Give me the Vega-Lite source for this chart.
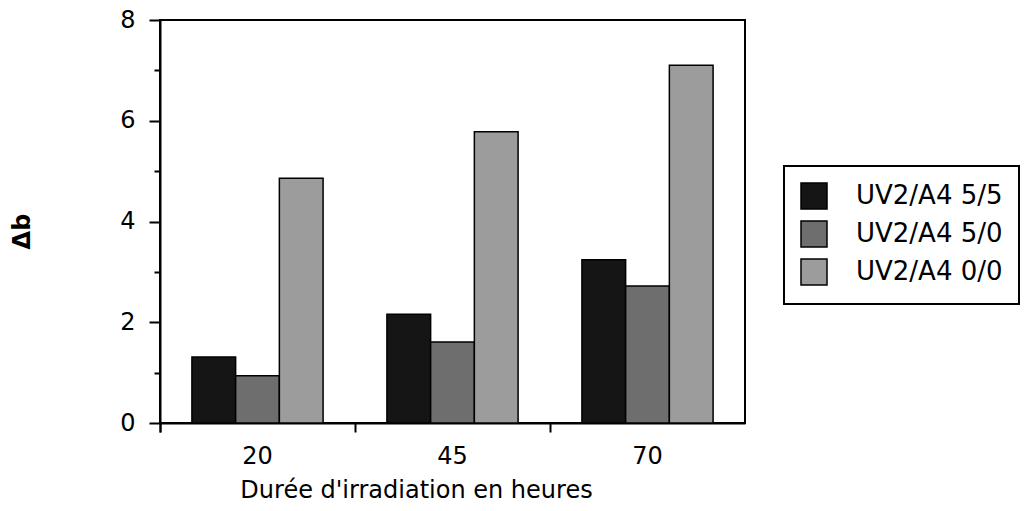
{
  "$schema": "https://vega.github.io/schema/vega-lite/v6.json",
  "autosize": "none",
  "width": 585,
  "height": 403,
  "padding": {"left": 160, "top": 20, "right": 283, "bottom": 88},
  "background": "white",
  "data": {
    "values": [
      {"duree": "20", "serie": "UV2/A4 5/5", "db": 1.31},
      {"duree": "20", "serie": "UV2/A4 5/0", "db": 0.94},
      {"duree": "20", "serie": "UV2/A4 0/0", "db": 4.86},
      {"duree": "45", "serie": "UV2/A4 5/5", "db": 2.16},
      {"duree": "45", "serie": "UV2/A4 5/0", "db": 1.61},
      {"duree": "45", "serie": "UV2/A4 0/0", "db": 5.78},
      {"duree": "70", "serie": "UV2/A4 5/5", "db": 3.24},
      {"duree": "70", "serie": "UV2/A4 5/0", "db": 2.72},
      {"duree": "70", "serie": "UV2/A4 0/0", "db": 7.1}
    ]
  },
  "mark": {"type": "bar", "stroke": "black", "strokeWidth": 1.5},
  "encoding": {
    "x": {
      "field": "duree",
      "type": "nominal",
      "sort": ["20", "45", "70"],
      "scale": {"paddingInner": 0, "paddingOuter": 0},
      "axis": {
        "title": "Durée d'irradiation en heures",
        "labelAngle": 0,
        "bandPosition": 0,
        "tickExtra": true,
        "tickSize": 9,
        "labelPadding": 12,
        "titlePadding": 10,
        "titleX": 256
      }
    },
    "xOffset": {
      "field": "serie",
      "type": "nominal",
      "sort": ["UV2/A4 5/5", "UV2/A4 5/0", "UV2/A4 0/0"],
      "scale": {"paddingInner": 0, "paddingOuter": 0.73}
    },
    "y": {
      "field": "db",
      "type": "quantitative",
      "scale": {"domain": [0, 8], "nice": false},
      "axis": {
        "title": "Δb",
        "values": [0, 1, 2, 3, 4, 5, 6, 7, 8],
        "labelExpr": "datum.value % 2 === 0 ? datum.label : ''",
        "tickSize": {"condition": {"test": "datum.value % 2 === 0", "value": 11}, "value": 6},
        "labelPadding": 14,
        "titleAngle": 270,
        "titleX": -138,
        "titleY": 211,
        "titleAlign": "center",
        "titleBaseline": "middle",
        "titleFontWeight": "bold"
      }
    },
    "color": {
      "field": "serie",
      "type": "nominal",
      "sort": ["UV2/A4 5/5", "UV2/A4 5/0", "UV2/A4 0/0"],
      "scale": {
        "domain": ["UV2/A4 5/5", "UV2/A4 5/0", "UV2/A4 0/0"],
        "range": ["#151515", "#6e6e6e", "#9c9c9c"]
      },
      "legend": {
        "title": null,
        "orient": "none",
        "legendX": 624,
        "legendY": 146,
        "symbolType": "square",
        "symbolSize": 676,
        "symbolStrokeColor": "black",
        "symbolStrokeWidth": 1.5,
        "labelOffset": 28,
        "rowPadding": 6,
        "padding": 16,
        "labelFontSize": 26,
        "labelFont": "DejaVu Sans",
        "labelColor": "black",
        "strokeColor": "black",
        "labelLimit": 300,
        "encode": {"legend": {"update": {"strokeWidth": {"value": 2}}}}
      }
    }
  },
  "config": {
    "view": {"stroke": "black", "strokeWidth": 2},
    "axis": {
      "grid": false,
      "domainColor": "black",
      "domainWidth": 2,
      "tickColor": "black",
      "tickWidth": 2,
      "labelFont": "DejaVu Sans",
      "labelFontSize": 24,
      "labelColor": "black",
      "titleFont": "DejaVu Sans",
      "titleFontSize": 24,
      "titleFontWeight": "normal",
      "titleColor": "black"
    }
  }
}
